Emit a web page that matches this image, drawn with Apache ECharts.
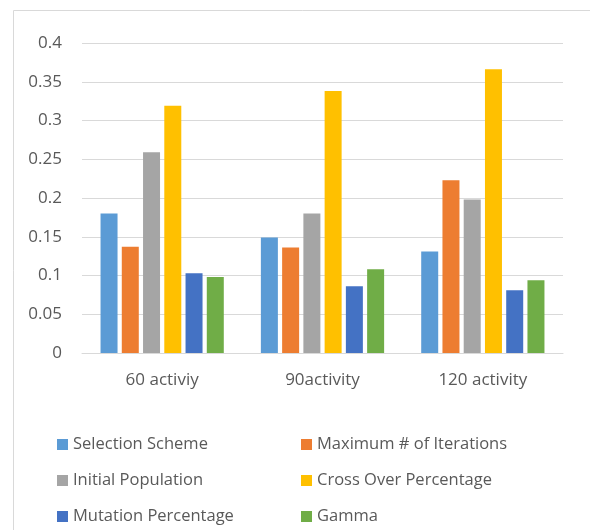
<!DOCTYPE html>
<html>
<head>
<meta charset="utf-8">
<script src="https://cdn.jsdelivr.net/npm/echarts@6/dist/echarts.min.js"></script>
<style>
  html, body { margin: 0; padding: 0; background: #ffffff; }
  #chart { width: 590px; height: 530px; }
</style>
</head>
<body>
<div id="chart"></div>
<script>
// Categories along the x axis
const categories = ['60 activiy', '90activity', '120 activity'];

// Parameter series (one value per category)
const selectionScheme   = [0.180, 0.149, 0.131];
const maxIterations     = [0.137, 0.136, 0.223];
const initialPopulation = [0.259, 0.180, 0.198];
const crossOverPct      = [0.319, 0.338, 0.366];
const mutationPct       = [0.103, 0.086, 0.081];
const gamma             = [0.098, 0.108, 0.094];

const seriesNames = [
  'Selection Scheme', 'Maximum # of Iterations',
  'Initial Population', 'Cross Over Percentage',
  'Mutation Percentage', 'Gamma'
];
const seriesValues = [selectionScheme, maxIterations, initialPopulation,
                      crossOverPct, mutationPct, gamma];
const colors = ['#5B9BD5', '#ED7D31', '#A5A5A5', '#FFC000', '#4472C4', '#70AD47'];

const FONT = '"Open Sans", "Noto Sans", sans-serif';
const TEXT = '#595959';

const chart = echarts.init(document.getElementById('chart'), null, { renderer: 'canvas' });

const legendText = { color: TEXT, fontSize: 16.5, fontFamily: FONT };

// Legend laid out as two columns of three rows, one legend block per entry
const legends = seriesNames.map((name, i) => ({
  data: [name],
  left: i % 2 === 0 ? 57 : 301,
  top: 436 + Math.floor(i / 2) * 36,
  padding: 0,
  itemWidth: 11, itemHeight: 11, itemGap: 4,
  icon: 'rect',
  textStyle: legendText
}));

chart.setOption({
  animation: false,
  color: colors,
  graphic: [{
    type: 'rect',
    shape: { x: 13.5, y: 10.5, width: 620, height: 560 },
    style: { fill: 'none', stroke: '#d9d9d9', lineWidth: 1 },
    silent: true
  }],
  grid: { left: 82, right: 27, top: 43, bottom: 177, containLabel: false },
  legend: legends,
  xAxis: {
    type: 'category',
    data: categories,
    axisLine: { lineStyle: { color: '#d9d9d9', width: 1 } },
    axisTick: { show: false },
    axisLabel: { color: TEXT, fontSize: 17, fontFamily: FONT, margin: 19 }
  },
  yAxis: {
    type: 'value',
    min: 0, max: 0.4, interval: 0.05,
    axisLine: { show: false },
    axisTick: { show: false },
    splitLine: { lineStyle: { color: '#d9d9d9', width: 1 } },
    axisLabel: {
      color: TEXT, fontSize: 17, fontFamily: FONT, margin: 20,
      formatter: v => String(Math.round(v * 100) / 100)
    }
  },
  series: seriesNames.map((name, i) => ({
    name,
    type: 'bar',
    data: seriesValues[i],
    barWidth: 17,
    barGap: '25%',
    itemStyle: { color: colors[i] }
  }))
});
</script>
</body>
</html>
